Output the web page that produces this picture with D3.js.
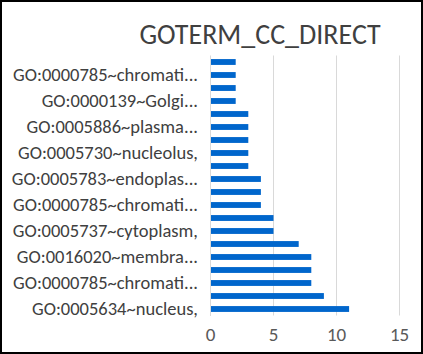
<!DOCTYPE html>
<html><head><meta charset="utf-8">
<script src="https://cdn.jsdelivr.net/npm/d3@7"></script>
<style>html,body{margin:0;padding:0;background:#fff;}</style>
</head><body>
<script>
// Categories from bottom (first) to top (last); unlabeled rows are hidden in the reference
const categories = [
  "GO:0005634~nucleus,", "", "GO:0000785~chromati...", "", "GO:0016020~membra...", "",
  "GO:0005737~cytoplasm,", "", "GO:0000785~chromati...", "", "GO:0005783~endoplas...", "",
  "GO:0005730~nucleolus,", "", "GO:0005886~plasma...", "", "GO:0000139~Golgi...", "",
  "GO:0000785~chromati...", ""
];
const values = [11, 9, 8, 8, 8, 7, 5, 5, 4, 4, 4, 3, 3, 3, 3, 3, 2, 2, 2, 2];
const xTicks = [0, 5, 10, 15];
const title = "GOTERM_CC_DIRECT";

const W = 423, H = 354;
const svg = d3.select("body").append("svg").attr("width", W).attr("height", H);
svg.append("rect").attr("x", 1).attr("y", 1).attr("width", W - 2).attr("height", H - 2)
  .attr("fill", "#fff").attr("stroke", "#000").attr("stroke-width", 2);

const font = "Calibri, Carlito, Lato, sans-serif";
const plot = {left: 210, right: 399, top: 55.5, bottom: 315.5};
const x = d3.scaleLinear().domain([0, 15]).range([plot.left, plot.right]);
const idx = d3.range(categories.length);
const y = d3.scaleBand().domain(idx).range([plot.bottom, plot.top]).paddingInner(0.55).paddingOuter(0.275);

// gridlines
svg.append("g").selectAll("line").data(xTicks).join("line")
  .attr("x1", d => Math.round(x(d)) + 0.5).attr("x2", d => Math.round(x(d)) + 0.5)
  .attr("y1", plot.top).attr("y2", plot.bottom)
  .attr("stroke", "#d9d9d9").attr("stroke-width", 1);

// bars
svg.append("g").selectAll("rect").data(idx).join("rect")
  .attr("x", x(0) + 0.5).attr("y", i => y(i))
  .attr("width", i => x(values[i]) - x(0))
  .attr("height", y.bandwidth())
  .attr("fill", "#0066cc");

// y axis
const yAxis = d3.axisLeft(y).tickSize(0).tickPadding(12).tickFormat(i => categories[i]);
const yg = svg.append("g").attr("transform", `translate(${plot.left},0)`).call(yAxis);
yg.select(".domain").attr("stroke", "#d9d9d9");
yg.selectAll("text").attr("font-family", font).attr("font-size", 18.5).attr("fill", "#404040");

// x axis
const xAxis = d3.axisBottom(x).tickValues(xTicks).tickSize(0).tickPadding(12);
const xg = svg.append("g").attr("transform", `translate(0,${plot.bottom})`).call(xAxis);
xg.select(".domain").remove();
xg.selectAll("text").attr("font-family", font).attr("font-size", 19).attr("fill", "#595959");

svg.append("text").attr("x", 260).attr("y", 44).attr("text-anchor", "middle")
  .attr("font-family", font).attr("font-size", 28).attr("fill", "#404040").text(title);
</script>
</body></html>
